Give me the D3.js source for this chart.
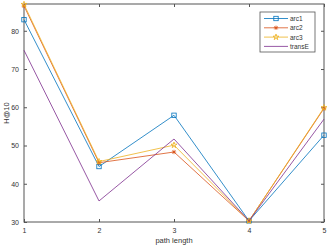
<!DOCTYPE html>
<html>
<head>
<meta charset="utf-8">
<script src="https://cdn.jsdelivr.net/npm/d3@7"></script>
<style>
  body { margin: 0; background: #fff; }
  svg { display: block; font-family: "Liberation Sans", Arial, sans-serif; }
</style>
</head>
<body>
<svg id="chart"></svg>
<script>
// data
const pathLength = [1, 2, 3, 4, 5];
const arc1 = [82.9, 44.5, 57.9, 30.3, 52.7];
const arc2 = [86.5, 45.5, 48.3, 30.3, 59.7];
const arc3 = [86.9, 45.8, 50.1, 30.3, 59.9];
const transE = [74.9, 35.5, 51.7, 30.3, 56.9];
const yTicks = [30, 40, 50, 60, 70, 80];

const series = [
  { name: "arc1", values: arc1, color: "#0072BD", marker: "square" },
  { name: "arc2", values: arc2, color: "#D95319", marker: "asterisk" },
  { name: "arc3", values: arc3, color: "#EDB120", marker: "star" },
  { name: "transE", values: transE, color: "#7E2F8E", marker: "none" }
];

const W = 327, H = 245;
const margin = { top: 4, right: 3, bottom: 23, left: 24 };
const width = W - margin.left - margin.right;
const height = H - margin.top - margin.bottom;

const svg = d3.select("#chart").attr("width", W).attr("height", H);
const g = svg.append("g")
  .attr("transform", "translate(" + margin.left + "," + margin.top + ")");

const x = d3.scaleLinear().domain([1, 5]).range([0, width]);
const y = d3.scaleLinear().domain([30, 87]).range([height, 0]);

const axisColor = "#555";

// box
g.append("rect")
  .attr("width", width).attr("height", height)
  .attr("fill", "none").attr("stroke", axisColor).attr("stroke-width", 1);

// axes with inward ticks
const styleAxis = sel => {
  sel.select(".domain").remove();
  sel.selectAll("line").attr("stroke", axisColor);
  sel.selectAll("text").attr("fill", "#333").style("font-size", "7px");
};

g.append("g").attr("transform", "translate(0," + height + ")")
  .call(d3.axisBottom(x).tickValues(pathLength).tickSize(-3).tickPadding(6)
    .tickFormat(d3.format("d")))
  .call(styleAxis);
g.append("g")
  .call(d3.axisTop(x).tickValues(pathLength).tickSize(-3).tickFormat(""))
  .call(styleAxis);
g.append("g")
  .call(d3.axisLeft(y).tickValues(yTicks).tickSize(-3).tickPadding(5))
  .call(styleAxis);
g.append("g").attr("transform", "translate(" + width + ",0)")
  .call(d3.axisRight(y).tickValues(yTicks).tickSize(-3).tickFormat(""))
  .call(styleAxis);

// labels
svg.append("text")
  .attr("x", margin.left + x(3)).attr("y", H - 2)
  .attr("text-anchor", "middle").attr("fill", "#333")
  .style("font-size", "7.5px").text("path length");
svg.append("text")
  .attr("transform", "translate(9," + (margin.top + height / 2) + ") rotate(-90)")
  .attr("text-anchor", "middle").attr("fill", "#333")
  .style("font-size", "7.5px").text("H@10");

// markers
function drawMarker(sel, type, color, s) {
  if (type === "square") {
    sel.append("rect").attr("x", -s).attr("y", -s)
      .attr("width", 2 * s).attr("height", 2 * s)
      .attr("fill", "none").attr("stroke", color).attr("stroke-width", 0.8);
  } else if (type === "asterisk") {
    [0, 45, 90, 135].forEach(a => {
      sel.append("line").attr("x1", -s).attr("x2", s)
        .attr("transform", "rotate(" + a + ")")
        .attr("stroke", color).attr("stroke-width", 0.8);
    });
  } else if (type === "star") {
    sel.append("path")
      .attr("d", d3.symbol(d3.symbolStar, 11)())
      .attr("fill", "none").attr("stroke", color).attr("stroke-width", 0.8);
  }
}

const line = d3.line().x((d, i) => x(pathLength[i])).y(d => y(d));

series.forEach(s => {
  g.append("path").datum(s.values)
    .attr("d", line).attr("fill", "none")
    .attr("stroke", s.color).attr("stroke-width", 0.8);
  s.values.forEach((v, i) => {
    const m = g.append("g")
      .attr("transform", "translate(" + x(pathLength[i]) + "," + y(v) + ")");
    drawMarker(m, s.marker, s.color, 2.2);
  });
});

// legend
const lg = svg.append("g").attr("transform", "translate(260,12)");
lg.append("rect").attr("width", 55).attr("height", 40)
  .attr("fill", "#fff").attr("stroke", axisColor).attr("stroke-width", 0.8);
series.forEach((s, i) => {
  const row = lg.append("g").attr("transform", "translate(0," + (6.5 + i * 9.3) + ")");
  row.append("line").attr("x1", 4).attr("x2", 28)
    .attr("stroke", s.color).attr("stroke-width", 0.8);
  const m = row.append("g").attr("transform", "translate(16,0)");
  drawMarker(m, s.marker, s.color, 2.2);
  row.append("text").attr("x", 30).attr("y", 2.5)
    .attr("fill", "#333").style("font-size", "6.5px").text(s.name);
});
</script>
</body>
</html>
